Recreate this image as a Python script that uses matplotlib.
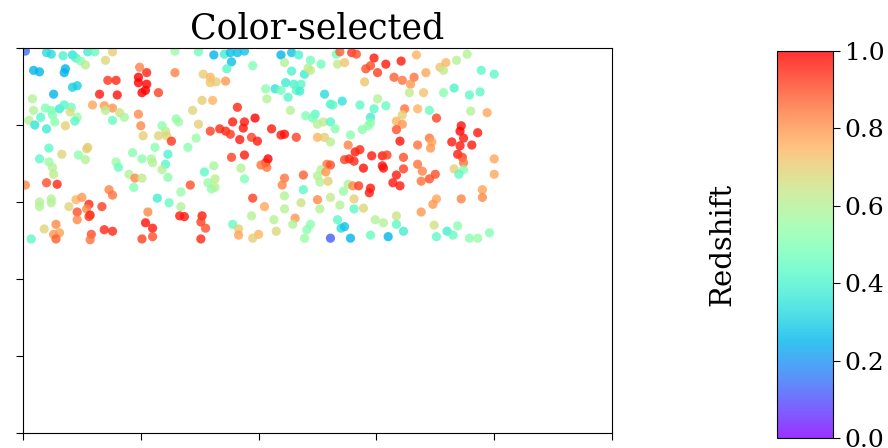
"""Colour-selected galaxy sample, coloured by redshift."""

import matplotlib

matplotlib.use("Agg")
import matplotlib.pyplot as plt
import numpy as np

plt.rcParams["font.family"] = "serif"
plt.rcParams["font.serif"] = ["DejaVu Serif"]

# sky position (arbitrary units) and redshift of each selected object
ra = [
    0.02, 0.20, 0.24, 0.34, 0.42, 0.45, 0.49, 0.55, 0.61, 0.76, 0.70, 0.53, 1.29, 0.09, 0.14, 0.36, 0.35,
    0.42, 0.46, 0.26, 0.99, 1.05, 0.98, 0.98, 1.05, 1.04, 1.01, 1.15, 1.29, 0.72, 0.79, 0.65, 0.80, 0.08,
    0.09, 0.05, 0.19, 0.24, 0.25, 0.15, 0.31, 0.35, 0.41, 0.40, 0.46, 0.44, 0.27, 0.10, 0.20, 0.36, 0.59,
    0.69, 0.76, 0.70, 0.82, 0.86, 0.76, 0.98, 1.00, 1.02, 1.18, 1.21, 1.15, 1.22, 1.26, 1.30, 1.32,
    1.49, 1.62, 1.71, 1.76, 1.82, 1.88, 1.77, 1.73, 1.95, 2.19, 2.28, 2.34, 2.44, 2.22, 2.28, 2.39, 2.42,
    2.44, 2.53, 2.66, 2.67, 1.53, 1.59, 1.59, 1.64, 1.72, 2.23, 2.30, 2.36, 2.14, 2.19, 2.06, 2.32, 2.35,
    2.25, 2.07, 2.56, 2.61, 2.63, 1.52, 1.61, 1.44, 1.82, 2.27, 2.40, 2.48, 2.46, 2.55, 2.61, 2.50, 2.65,
    1.49, 1.78, 1.88, 1.97, 1.87, 1.59, 1.67, 1.72, 1.76, 1.94, 1.84, 1.99, 2.11, 2.19, 2.22, 2.32, 2.50,
    2.56, 2.61, 1.47,
    2.69, 2.79, 2.83, 2.73, 2.98, 3.08, 3.21, 2.95, 2.91, 3.01, 3.34, 3.54, 3.59, 3.57, 3.68, 3.77, 3.42,
    3.15, 3.22, 3.32, 3.29, 2.90, 3.89, 4.00, 3.28, 3.40, 3.57, 3.66, 3.79, 3.88, 2.71, 2.86, 3.01, 2.98,
    3.08, 2.95, 2.95, 2.93, 2.88, 2.78, 3.24, 3.22, 3.35, 3.17, 3.22, 3.17, 3.45, 3.51, 3.80, 3.94, 3.20,
    3.45, 3.47, 3.72, 3.71, 3.74, 3.86, 3.64,
    0.22, 0.14, 0.22, 0.25, 0.26, 0.33, 0.47, 0.53, 0.54, 0.55, 0.02, 0.20, 0.29, 0.14, 0.14, 0.24, 0.24,
    0.39, 0.45, 0.50, 0.56, 0.46, 0.54, 0.57, 0.56, 0.46, 0.67, 0.73, 0.76, 0.18, 0.28, 0.31, 0.26, 0.28,
    0.07, 0.58, 0.57, 0.69, 0.76, 0.79, 0.81, 0.93, 1.01, 1.09, 1.10, 1.12, 1.23, 1.21, 1.18, 1.23, 0.90,
    0.95, 1.01, 0.94, 1.14, 1.24, 1.06, 1.04, 1.10, 1.01, 1.10,
    1.40, 1.77, 1.88, 2.08, 2.06, 2.02, 2.07, 1.85, 1.62, 1.54, 1.63, 1.57, 1.60, 1.63, 1.88, 1.42, 1.34,
    2.22, 2.20, 2.38, 2.38, 2.58, 2.61, 2.53, 2.57, 2.50, 2.52, 2.59, 2.22, 2.36, 2.61, 2.50, 2.52, 2.22,
    1.95, 2.05, 1.34, 1.33, 1.37, 1.52, 1.51, 1.55, 1.51, 1.94, 1.78, 1.83, 1.83, 2.13, 2.31, 2.29, 2.15,
    2.00, 1.95, 2.44, 2.41, 2.39, 2.61, 2.67,
    2.76, 3.35, 3.46, 3.71, 3.81, 2.82, 2.86, 2.73, 2.77, 2.81, 2.96, 3.05, 3.09, 3.23, 2.89, 3.05, 3.06,
    3.23, 3.17, 3.14, 3.20, 3.35, 3.39, 3.38, 3.45, 3.50, 3.69, 3.73, 3.74, 3.66, 3.74, 3.70, 4.00, 4.00,
    2.76, 2.80, 2.85, 2.95, 2.94, 2.72, 2.81, 2.69, 2.89, 2.81, 3.51, 3.48, 3.72, 3.90, 3.90, 3.38, 3.17,
    2.99, 3.06, 3.17, 3.23, 3.49, 3.60, 3.69, 3.65, 3.51, 3.79, 3.86, 3.96, 2.70, 2.73, 2.78, 2.95, 3.10,
]
dec = [
    4.96, 4.94, 4.92, 4.90, 4.91, 4.87, 4.83, 4.95, 4.95, 4.95, 4.84, 4.78, 4.96, 4.71, 4.69, 4.73, 4.68,
    4.49, 4.51, 4.40, 4.75, 4.68, 4.62, 4.55, 4.53, 4.45, 4.42, 4.42, 4.68, 4.58, 4.58, 4.40, 4.39, 4.34,
    4.19, 4.06, 4.22, 4.19, 4.13, 4.10, 4.21, 4.26, 4.23, 4.17, 4.10, 4.05, 4.04, 4.00, 3.95, 3.99, 4.26,
    4.25, 4.22, 4.19, 4.16, 4.10, 4.06, 4.14, 3.99, 3.86, 3.99, 3.92, 3.86, 3.86, 3.79, 4.08, 4.04,
    4.95, 4.91, 4.92, 4.94, 4.94, 4.96, 4.82, 4.73, 4.77, 4.91, 4.94, 4.91, 4.84, 4.81, 4.70, 4.66, 4.74,
    4.71, 4.79, 4.92, 4.79, 4.66, 4.62, 4.55, 4.56, 4.57, 4.55, 4.53, 4.53, 4.47, 4.45, 4.47, 4.45, 4.44,
    4.36, 4.34, 4.40, 4.27, 4.26, 4.32, 4.32, 4.19, 4.23, 4.19, 4.12, 4.14, 4.09, 4.04, 4.04, 4.01, 3.95,
    4.01, 4.04, 4.04, 4.09, 3.96, 3.92, 3.95, 3.92, 3.88, 3.84, 3.81, 3.79, 3.95, 3.87, 3.88, 3.84, 3.84,
    3.84, 3.78, 3.83,
    4.95, 4.94, 4.92, 4.81, 4.87, 4.79, 4.83, 4.77, 4.73, 4.68, 4.91, 4.75, 4.81, 4.71, 4.84, 4.92, 4.68,
    4.62, 4.58, 4.62, 4.53, 4.56, 4.71, 4.66, 4.42, 4.42, 4.42, 4.48, 4.39, 4.43, 4.31, 4.26, 4.34, 4.21,
    4.25, 4.10, 4.03, 3.99, 3.94, 3.87, 4.21, 4.13, 4.21, 4.05, 4.01, 3.94, 4.19, 4.09, 4.18, 4.16, 3.79,
    3.83, 3.78, 3.99, 3.92, 3.83, 3.90, 3.78,
    3.70, 3.56, 3.52, 3.45, 3.36, 3.62, 3.61, 3.55, 3.69, 3.71, 3.22, 3.25, 3.23, 3.00, 2.94, 3.04, 2.99,
    2.94, 3.03, 3.06, 2.97, 2.87, 2.91, 2.83, 2.81, 2.77, 2.94, 3.16, 3.09, 2.65, 2.71, 2.60, 2.58, 2.52,
    2.52, 2.58, 2.51, 2.64, 2.62, 3.52, 3.45, 3.64, 3.56, 3.56, 3.51, 3.71, 3.62, 3.49, 3.42, 3.32, 3.36,
    3.31, 3.31, 3.19, 3.05, 2.99, 2.87, 2.73, 2.66, 2.52, 2.55,
    3.71, 3.58, 3.61, 3.56, 3.51, 3.48, 3.45, 3.44, 3.47, 3.39, 3.30, 3.25, 3.17, 3.19, 3.30, 3.22, 3.13,
    3.31, 3.22, 3.35, 3.16, 3.49, 3.48, 3.42, 3.39, 3.34, 3.26, 3.27, 3.08, 2.99, 3.06, 3.03, 2.91, 2.91,
    3.05, 2.94, 2.94, 2.82, 2.81, 2.82, 2.74, 2.66, 2.52, 2.82, 2.71, 2.65, 2.57, 2.77, 2.79, 2.71, 2.62,
    2.58, 2.53, 2.71, 2.64, 2.53, 2.53, 2.77,
    3.74, 3.74, 3.70, 3.73, 3.74, 3.65, 3.68, 3.55, 3.56, 3.53, 3.60, 3.60, 3.61, 3.58, 3.44, 3.47, 3.44,
    3.43, 3.35, 3.25, 3.21, 3.49, 3.40, 3.27, 3.30, 3.36, 3.62, 3.58, 3.51, 3.43, 3.42, 3.36, 3.56, 3.36,
    3.23, 3.21, 3.21, 3.18, 3.12, 3.14, 3.04, 2.96, 2.92, 2.91, 3.04, 2.97, 3.04, 3.16, 3.06, 2.87, 2.82,
    2.77, 2.73, 2.71, 2.62, 2.70, 2.62, 2.69, 2.57, 2.55, 2.53, 2.53, 2.60, 2.66, 2.68, 2.53, 2.57, 2.55,
]
redshift = [
    0.15, 0.33, 0.33, 0.40, 0.35, 0.40, 0.50, 0.38, 0.45, 0.70, 0.68, 0.62, 0.55, 0.25, 0.25, 0.25, 0.25,
    0.30, 0.30, 0.25, 0.83, 0.95, 1.00, 1.00, 1.00, 1.00, 1.00, 0.92, 0.83, 0.93, 0.95, 0.97, 0.98, 0.60,
    0.60, 0.60, 0.50, 0.50, 0.50, 0.42, 0.37, 0.42, 0.47, 0.66, 0.55, 0.43, 0.52, 0.35, 0.37, 0.70, 0.77,
    0.80, 0.80, 0.62, 0.65, 0.58, 0.45, 0.82, 0.82, 0.70, 0.52, 0.62, 0.68, 0.68, 0.93, 0.55, 0.55,
    0.47, 0.25, 0.38, 0.27, 0.27, 0.28, 0.27, 0.42, 0.50, 0.25, 0.28, 0.40, 0.47, 0.60, 0.40, 0.37, 0.62,
    0.63, 0.47, 0.47, 0.63, 0.70, 0.75, 0.72, 0.70, 0.80, 0.37, 0.40, 0.42, 0.35, 0.47, 0.52, 0.43, 0.38,
    0.42, 0.60, 0.33, 0.40, 0.43, 0.70, 0.75, 0.68, 0.95, 0.60, 0.50, 0.43, 0.48, 0.63, 0.42, 0.60, 0.52,
    0.70, 0.97, 0.97, 1.00, 0.97, 0.92, 0.95, 0.95, 0.93, 0.92, 0.97, 0.97, 0.97, 0.97, 0.98, 0.92, 0.75,
    0.70, 0.62, 0.55,
    0.88, 0.93, 0.90, 0.72, 0.97, 0.97, 0.97, 0.90, 0.90, 0.92, 0.75, 0.72, 0.75, 0.63, 0.60, 0.60, 0.77,
    0.88, 0.85, 0.85, 0.80, 0.72, 0.43, 0.43, 0.63, 0.72, 0.52, 0.40, 0.43, 0.43, 0.35, 0.43, 0.60, 0.43,
    0.45, 0.38, 0.52, 0.52, 0.52, 0.52, 0.85, 0.70, 0.75, 0.75, 0.80, 0.90, 0.45, 0.92, 0.60, 0.77, 0.98,
    0.85, 0.78, 0.98, 1.00, 0.97, 0.97, 0.97,
    0.43, 0.43, 0.55, 0.60, 0.62, 0.68, 0.52, 0.60, 0.68, 0.70, 0.82, 0.90, 0.95, 0.60, 0.60, 0.60, 0.60,
    0.68, 0.75, 0.80, 0.95, 0.90, 0.82, 0.97, 0.92, 0.82, 0.92, 0.83, 0.85, 0.68, 0.82, 0.78, 0.80, 0.88,
    0.43, 0.90, 0.85, 0.95, 0.95, 0.55, 0.45, 0.52, 0.52, 0.58, 0.60, 0.52, 0.40, 0.42, 0.60, 0.52, 0.60,
    0.82, 0.63, 0.50, 0.38, 0.45, 0.82, 0.98, 0.97, 0.92, 0.90,
    0.52, 0.92, 0.97, 1.00, 0.97, 0.85, 0.85, 0.60, 0.58, 0.43, 0.62, 0.55, 0.52, 0.60, 0.50, 0.90, 0.55,
    0.85, 0.83, 0.88, 0.43, 0.85, 0.90, 0.60, 0.80, 0.60, 0.60, 0.70, 0.60, 0.65, 0.63, 0.82, 0.60, 0.60,
    0.92, 0.77, 0.60, 0.97, 0.97, 0.97, 0.92, 0.90, 0.95, 0.60, 0.45, 0.70, 0.78, 0.60, 0.80, 0.60, 0.68,
    0.75, 0.70, 0.52, 0.52, 0.55, 0.12, 0.43,
    0.83, 0.85, 0.80, 0.97, 0.97, 0.97, 0.95, 0.92, 0.95, 0.95, 0.97, 0.97, 0.92, 0.90, 0.98, 0.98, 0.98,
    0.92, 0.97, 0.97, 0.97, 0.85, 0.83, 0.85, 0.90, 0.90, 0.97, 0.92, 0.85, 0.70, 0.52, 0.43, 0.77, 0.77,
    0.60, 0.82, 0.92, 0.97, 0.97, 0.55, 0.70, 0.60, 0.68, 0.43, 0.77, 0.80, 0.83, 0.78, 0.82, 0.80, 0.65,
    0.60, 0.60, 0.43, 0.38, 0.65, 0.38, 0.52, 0.45, 0.43, 0.52, 0.55, 0.50, 0.33, 0.28, 0.25, 0.45, 0.25,
]

W, H = 888, 448
fig = plt.figure(figsize=(W / 100, H / 100), dpi=100)
ax = fig.add_axes([23 / W, (H - 433) / H, 589 / W, 385 / H])
cax = fig.add_axes([777 / W, (H - 438) / H, 56 / W, 387 / H])

sc = ax.scatter(ra, dec, c=redshift, cmap="rainbow", vmin=0, vmax=1,
                s=44, alpha=0.8, edgecolors="none")
ax.set_xlim(0, 5)
ax.set_ylim(0, 5)
ax.set_xticks(np.arange(0, 6))
ax.set_yticks(np.arange(0, 6))
ax.tick_params(labelbottom=False, labelleft=False, length=5)
ax.set_title("Color-selected", fontsize=25, pad=7)

cbar = fig.colorbar(sc, cax=cax)
cbar.set_ticks([0.0, 0.2, 0.4, 0.6, 0.8, 1.0])
cbar.ax.tick_params(labelsize=18, length=5)
cbar.set_label("Redshift", fontsize=21, labelpad=29)
cbar.ax.yaxis.set_label_position("left")

fig.savefig("out.png", dpi=100)
